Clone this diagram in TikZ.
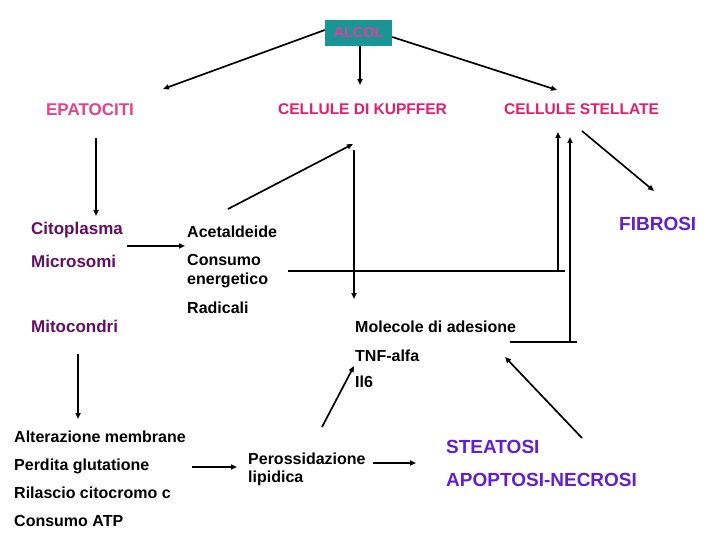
\documentclass[tikz,border=0pt]{standalone}
\usepackage{fontspec}
\setmainfont{Liberation Sans}
\usetikzlibrary{arrows.meta}
\definecolor{tealbox}{RGB}{24,150,150}
\definecolor{pinkhdr}{RGB}{226,30,110}
\definecolor{pinklt}{RGB}{232,64,140}
\definecolor{alcoltxt}{RGB}{226,60,160}
\definecolor{orgpurple}{RGB}{100,14,100}
\definecolor{outblue}{RGB}{100,30,210}
\begin{document}
\begin{tikzpicture}[x=1pt,y=-1pt,
  txt/.style={inner sep=0pt, anchor=base west, font=\bfseries\fontsize{16}{18}\selectfont},
  hdr/.style={inner sep=0pt, anchor=base, text=pinkhdr, font=\bfseries\fontsize{15.5}{18}\selectfont},
  org/.style={inner sep=0pt, anchor=base west, text=orgpurple, font=\bfseries\fontsize{17}{20}\selectfont},
  outc/.style={inner sep=0pt, anchor=base west, text=outblue, font=\bfseries\fontsize{19}{22}\selectfont},
  arr/.style={line width=1.7pt, -{Triangle[length=6pt,width=5pt]}},
  plainline/.style={line width=1.1pt}]
\useasboundingbox (0,0) rectangle (720,540);
\fill[white] (0,0) rectangle (720,540);

% top
\node[fill=tealbox, minimum width=67pt, minimum height=26pt, inner sep=0pt, text=alcoltxt,
      font=\bfseries\fontsize{14.5}{16}\selectfont] (alcol) at (358.5,33) {ALCOL};

\node[hdr, text=pinklt, font=\bfseries\fontsize{17}{18}\selectfont] (epat) at (90,116) {EPATOCITI};
\node[hdr] (kupf) at (362.5,115) {CELLULE DI KUPFFER};
\node[hdr] (stell) at (581.5,115) {CELLULE STELLATE};

% organelles
\node[org] (citop) at (31,234) {Citoplasma};
\node[org] (micro) at (31,267) {Microsomi};
\node[org] (mito) at (31,332) {Mitocondri};

% products
\node[txt] (acet) at (187,237) {Acetaldeide};
\node[txt] (cons1) at (187,265) {Consumo};
\node[txt] (cons2) at (187,284) {energetico};
\node[txt] (radic) at (187,313) {Radicali};

\node[txt] (molec) at (355,332) {Molecole di adesione};
\node[txt] (tnf) at (355,361) {TNF-alfa};
\node[txt] (il6) at (355,387) {Il6};

\node[outc] (fibrosi) at (619,230) {FIBROSI};

\node[txt] (alter) at (14,442) {Alterazione membrane};
\node[txt] (perdita) at (14,470) {Perdita glutatione};
\node[txt] (rilascio) at (14,498) {Rilascio citocromo c};
\node[txt] (consatp) at (14,526) {Consumo ATP};

\node[txt] (pero1) at (248,464) {Perossidazione};
\node[txt] (pero2) at (248,482) {lipidica};

\node[outc] (steat) at (446,453) {STEATOSI};
\node[outc] (apop) at (446,486) {APOPTOSI-NECROSI};

% connector end points
\coordinate (epat-in) at (163,89);
\coordinate (kupf-in) at (360,85);
\coordinate (stell-in) at (557,90);
\coordinate (epat-out) at (96,138);
\coordinate (citop-in) at (96,216);
\coordinate (micro-out) at (127,246);
\coordinate (acet-in) at (185,246);
\coordinate (acet-out) at (228,209);
\coordinate (kupf-in2) at (353,144);
\coordinate (kupf-out) at (354,150);
\coordinate (molec-in) at (354,299);
\coordinate (cons-out) at (288,271);
\coordinate (l1-end) at (565,271);
\coordinate (l1-turn) at (558,271);
\coordinate (stell-in1) at (558,132);
\coordinate (molec-out) at (510,342);
\coordinate (l2-end) at (577,342);
\coordinate (l2-turn) at (570,342);
\coordinate (stell-in2) at (570,137);
\coordinate (stell-out) at (582,131);
\coordinate (fibrosi-in) at (654,191);
\coordinate (pero-out) at (322,427);
\coordinate (tnf-in) at (354,366);
\coordinate (steat-out) at (582,438);
\coordinate (molec-in2) at (505,357);
\coordinate (mito-out) at (78,354);
\coordinate (alter-in) at (78,419);
\coordinate (perdita-out) at (192,467);
\coordinate (pero-in) at (237,467);
\coordinate (pero-out2) at (373,463);
\coordinate (steat-in) at (416,463);

% connectors
\draw[arr] ([yshift=3pt]alcol.west) -- (epat-in);
\draw[arr] ([xshift=1.5pt]alcol.south) -- (kupf-in);
\draw[arr] ([yshift=-4pt]alcol.east) -- (stell-in);
\draw[arr] (epat-out) -- (citop-in);
\draw[arr] (micro-out) -- (acet-in);
\draw[arr] (acet-out) -- (kupf-in2);
\draw[arr] (kupf-out) -- (molec-in);
\draw[plainline] (cons-out) -- (l1-end);
\draw[arr] (l1-turn) -- (stell-in1);
\draw[plainline] (molec-out) -- (l2-end);
\draw[arr] (l2-turn) -- (stell-in2);
\draw[arr] (stell-out) -- (fibrosi-in);
\draw[arr] (pero-out) -- (tnf-in);
\draw[arr] (steat-out) -- (molec-in2);
\draw[arr] (mito-out) -- (alter-in);
\draw[arr] (perdita-out) -- (pero-in);
\draw[arr] (pero-out2) -- (steat-in);
\end{tikzpicture}
\end{document}
